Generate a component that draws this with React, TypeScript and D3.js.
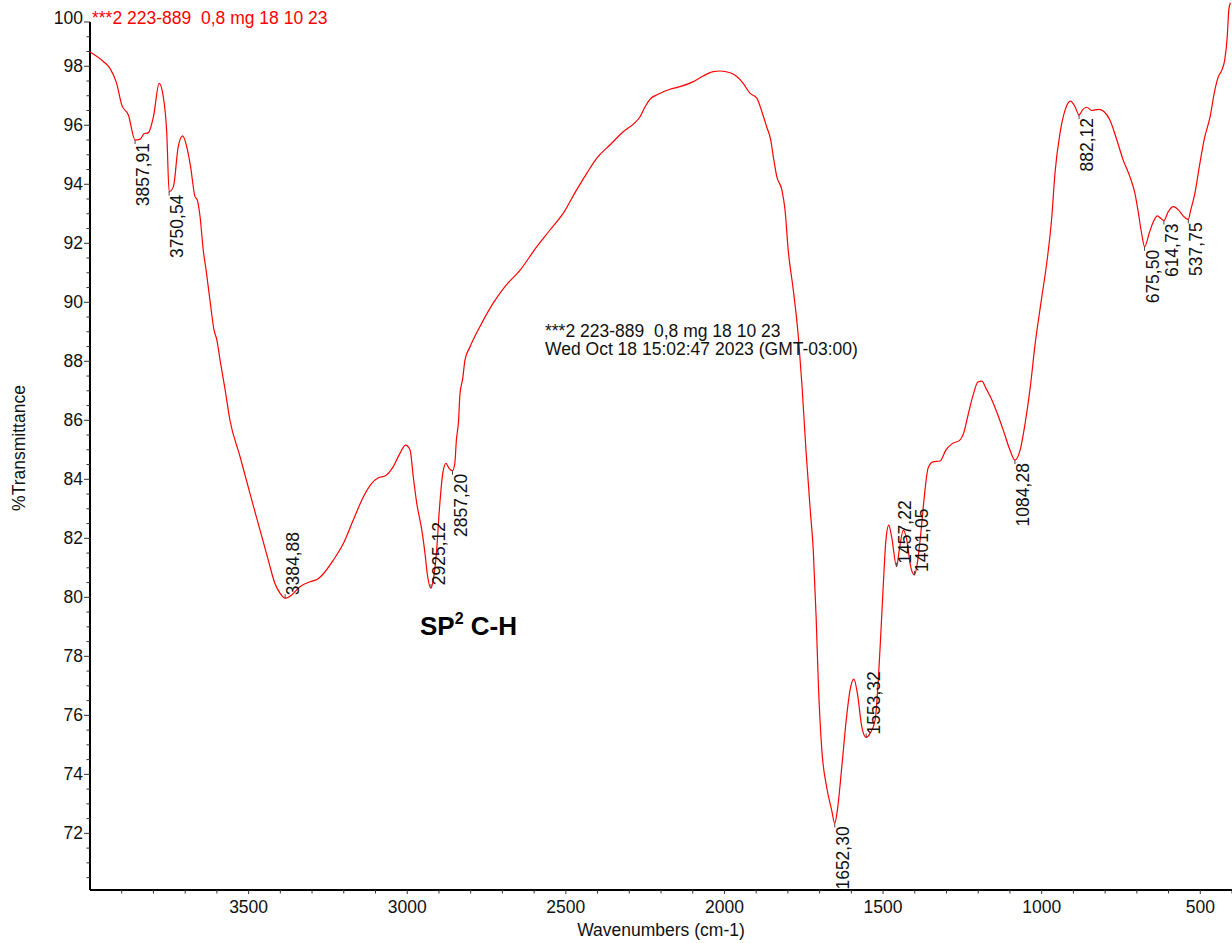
import React from 'react';
import * as d3 from 'd3';

const wavenumbers = [
  4000, 3958, 3937, 3916, 3900, 3879, 3857.91, 3842, 3830, 3816, 3800, 3782, 3769, 3758, 3750.54,
  3737, 3722, 3708, 3695, 3683, 3669, 3662, 3653, 3643, 3634, 3622, 3609, 3600, 3590, 3574, 3559,
  3527, 3496, 3464, 3438, 3417, 3401, 3384.88, 3364, 3338, 3306, 3283, 3265, 3233, 3201, 3170,
  3138, 3112, 3091, 3070, 3044, 3023, 3005, 2991, 2981, 2970, 2954, 2944, 2937, 2925.12, 2918,
  2908, 2898, 2888, 2878, 2868, 2857.2, 2850, 2845, 2838, 2834, 2825, 2818, 2802, 2771, 2729,
  2692, 2644, 2592, 2550, 2508, 2466, 2434, 2403, 2361, 2319, 2282, 2266, 2250, 2235, 2209, 2172,
  2140, 2098, 2067, 2035, 2014, 1982, 1961, 1941, 1919, 1898, 1882, 1867, 1854, 1846, 1835, 1819,
  1809, 1799, 1783, 1767, 1756, 1743, 1730, 1720, 1711, 1704, 1693, 1678, 1662, 1652.3, 1644,
  1630, 1615, 1602, 1592, 1581, 1567, 1553.32, 1541, 1525, 1515, 1507, 1499, 1491, 1482, 1473,
  1457.22, 1449, 1436, 1425, 1413, 1401.05, 1392, 1381, 1371, 1358, 1343, 1320, 1302, 1283, 1258,
  1245, 1232, 1216, 1201, 1188, 1176, 1157, 1138, 1119, 1100, 1084.28, 1068, 1053, 1037, 1021,
  1000, 984, 968, 958, 942, 926, 909, 895, 882.12, 871, 858, 842, 821, 803, 785, 763, 743, 722,
  706, 695, 685, 675.5, 661, 648, 635, 625, 614.73, 601, 585, 569, 554, 537.75, 530, 517, 503,
  488, 469, 454, 443, 432, 423, 415, 410, 405,
];

const transmittance = [
  98.48, 98.16, 97.93, 97.42, 96.69, 96.35, 95.5, 95.53, 95.71, 95.75, 96.29, 97.42, 96.97, 95.74, 93.75,
  93.92, 95.27, 95.64, 95.27, 94.6, 93.58, 93.47, 92.9, 91.77, 91.09, 90.08, 89.06, 88.72, 88.04, 87.03, 86.01,
  84.77, 83.53, 82.28, 81.26, 80.47, 80.14, 79.97, 80.08, 80.36, 80.53, 80.61, 80.79, 81.26, 81.83, 82.62,
  83.41, 83.86, 84.05, 84.11, 84.43, 84.88, 85.16, 84.99, 84.09, 83.19, 82.28, 81.49, 80.81, 80.31, 80.59,
  81.49, 83.07, 84.2, 84.54, 84.37, 84.29, 84.54, 85.33, 86.01, 86.86, 87.42, 88.04, 88.49, 89.17, 89.97,
  90.53, 91.09, 91.88, 92.45, 93.02, 93.81, 94.37, 94.88, 95.33, 95.78, 96.09, 96.29, 96.63, 96.88, 97.05, 97.22,
  97.31, 97.48, 97.67, 97.82, 97.84, 97.78, 97.65, 97.42, 97.08, 96.92, 96.46, 95.95, 95.5, 94.94, 94.26, 93.81,
  93.13, 91.77, 90.42, 88.83, 87.25, 84.99, 83.02, 81.6, 79.34, 77.08, 74.82, 73.58, 72.79, 72.34, 72.79,
  74.26, 75.95, 76.97, 77.23, 76.75, 75.61, 75.25, 75.39, 75.84, 77.2, 78.78, 80.47, 81.94, 82.45, 82.05,
  81.04, 81.6, 82.28, 81.94, 81.04, 80.76, 81.15, 82.17, 83.3, 84.38, 84.59, 84.62, 84.99, 85.2, 85.33,
  85.6, 86.18, 86.86, 87.3, 87.33, 87.09, 86.69, 86.18, 85.6, 84.99, 84.65, 84.99, 85.84, 87.03, 88.55,
  90.15, 91.33, 92.9, 94.38, 95.74, 96.52, 96.82, 96.63, 96.35, 96.52, 96.61, 96.5, 96.54, 96.46, 96.18, 95.5, 94.82, 94.26,
  93.69, 93.02, 92.34, 91.88, 92.34, 92.73, 92.93, 92.85, 92.77, 93.07, 93.24, 93.13, 92.93, 92.81, 93.13, 93.69, 94.6,
  95.5, 96.29, 97.2, 97.65, 97.87, 98.21, 99.0, 99.91, 100.15,
];

const peakWavenumbers = [3857.91, 3750.54, 3384.88, 2925.12, 2857.2, 1652.3, 1553.32, 1457.22, 1401.05, 1084.28, 882.12, 675.5, 614.73, 537.75];
const peakLabels = ['3857,91', '3750,54', '3384,88', '2925,12', '2857,20', '1652,30', '1553,32', '1457,22', '1401,05', '1084,28', '882,12', '675,50', '614,73', '537,75'];
const peakLabelAbove = [false, false, true, true, false, false, true, true, true, false, false, false, false, false];

const xTickValues = [3500, 3000, 2500, 2000, 1500, 1000, 500];
const yTickValues = [72, 74, 76, 78, 80, 82, 84, 86, 88, 90, 92, 94, 96, 98];
const yTopValue = 99.5;
const yBottomValue = 70.08;
const xDomain = [4000, 400];

const sampleTitle = '***2 223-889  0,8 mg 18 10 23';
const timestampText = 'Wed Oct 18 15:02:47 2023 (GMT-03:00)';
const xAxisTitle = 'Wavenumbers (cm-1)';
const yAxisTitle = '%Transmittance';

const FONT = '"Liberation Sans", Arial, Helvetica, sans-serif';
const FS = 17.5;

export default function App() {
  const W = 1232;
  const H = 943;
  const left = 90;
  const right = 1232;
  const top = 22;
  const bottom = 890;

  const x = d3.scaleLinear().domain(xDomain).range([left, right]);
  const y = d3.scaleLinear().domain([yBottomValue, yTopValue]).range([bottom, top]);

  const pts = wavenumbers.map((w, i) => [w, transmittance[i]] as [number, number]);
  const line = d3
    .line<[number, number]>()
    .x((d) => x(d[0]))
    .y((d) => y(d[1]))
    .curve(d3.curveMonotoneX);
  const pathD = line(pts) || '';

  const xMinor = d3.range(3900, 399, -100).filter((v) => v % 500 !== 0);
  const yMinor = d3.range(70.5, yTopValue, 0.5).filter((v) => !(Number.isInteger(v) && v % 2 === 0));
  const fmtTop = (v: number) => v.toFixed(0);

  return (
    <svg
      width={W}
      height={H}
      style={{ position: 'absolute', left: 0, top: 0, background: '#fff' }}
      fontFamily={FONT}
    >
      <rect x={0} y={0} width={W} height={H} fill="#fff" />

      {/* Y axis */}
      <line x1={left} x2={left} y1={top} y2={bottom} stroke="#000" strokeWidth={2} />
      {yMinor.map((v) => (
        <line key={'ym' + v} x1={left - 3.5} x2={left} y1={y(v)} y2={y(v)} stroke="#333" strokeWidth={1} />
      ))}
      {yTickValues.map((v) => (
        <g key={'y' + v}>
          <line x1={left - 6} x2={left} y1={y(v)} y2={y(v)} stroke="#333" strokeWidth={1} />
          <text x={left - 7} y={y(v)} dy="0.35em" textAnchor="end" fontSize={FS} fill="#111">
            {v}
          </text>
        </g>
      ))}
      <line x1={left - 6} x2={left} y1={y(yTopValue)} y2={y(yTopValue)} stroke="#333" strokeWidth={1} />
      <text x={left - 7} y={y(yTopValue)} dy="0.12em" textAnchor="end" fontSize={FS} fill="#111">
        {fmtTop(yTopValue)}
      </text>

      {/* X axis */}
      <line x1={left} x2={right} y1={bottom} y2={bottom} stroke="#000" strokeWidth={2} />
      {xMinor.map((v) => (
        <line key={'xm' + v} x1={x(v)} x2={x(v)} y1={bottom} y2={bottom + 3.5} stroke="#333" strokeWidth={1} />
      ))}
      {xTickValues.map((v) => (
        <g key={'x' + v}>
          <line x1={x(v)} x2={x(v)} y1={bottom} y2={bottom + 4} stroke="#333" strokeWidth={1} />
          <text x={x(v)} y={bottom + 23} textAnchor="middle" fontSize={FS} fill="#111">
            {v}
          </text>
        </g>
      ))}

      {/* Axis titles */}
      <text x={(left + right) / 2} y={936} textAnchor="middle" fontSize={FS} fill="#111">
        {xAxisTitle}
      </text>
      <text transform={`translate(25,448) rotate(-90)`} textAnchor="middle" fontSize={FS} fill="#111">
        {yAxisTitle}
      </text>

      {/* Spectrum */}
      <path d={pathD} fill="none" stroke="#ff0000" strokeWidth={1.2} />

      {/* Peak labels */}
      {peakWavenumbers.map((pw, i) => {
        const idx = wavenumbers.indexOf(pw);
        const px = x(pw);
        const py = y(transmittance[idx]);
        const above = peakLabelAbove[i];
        return (
          <g key={'p' + pw}>
            <line
              x1={px}
              x2={px}
              y1={py}
              y2={above ? py - 4 : py + 4}
              stroke="#444"
              strokeWidth={1}
            />
            <text
              transform={`translate(${px + 14},${above ? py - 3 : py + 3}) rotate(-90)`}
              textAnchor={above ? 'start' : 'end'}
              fontSize={FS}
              fill="#111"
            >
              {peakLabels[i]}
            </text>
          </g>
        );
      })}

      {/* Title & annotations */}
      <text x={92} y={24} fontSize={FS} fill="#ff0000" xmlSpace="preserve" style={{ whiteSpace: 'pre' }}>
        {sampleTitle}
      </text>
      <text x={545} y={336.5} fontSize={FS} fill="#111" xmlSpace="preserve" style={{ whiteSpace: 'pre' }}>
        {sampleTitle}
      </text>
      <text x={545} y={355} fontSize={FS} fill="#111" xmlSpace="preserve" style={{ whiteSpace: 'pre' }}>
        {timestampText}
      </text>
      <text x={420} y={635} fontSize={26} fontWeight="bold" fill="#000">
        SP
        <tspan fontSize={16} dy={-11}>
          2
        </tspan>
        <tspan dy={11}> C-H</tspan>
      </text>
    </svg>
  );
}
